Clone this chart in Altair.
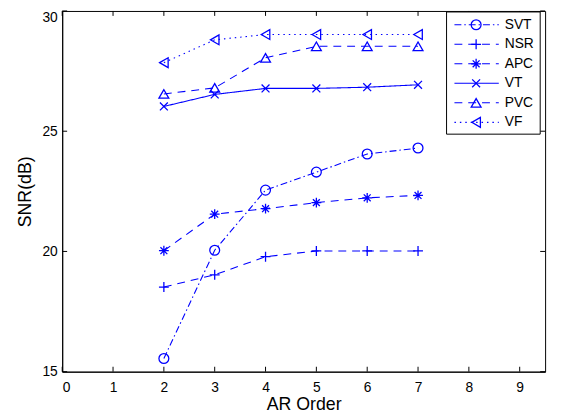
import altair as alt
import pandas as pd

# ---- data ----
ar_order = [2, 3, 4, 5, 6, 7]
series_names = ["SVT", "NSR", "APC", "VT", "PVC", "VF"]
svt = [15.55, 20.05, 22.55, 23.3, 24.05, 24.3]
nsr = [18.52, 19.03, 19.78, 20.02, 20.02, 20.02]
apc = [20.03, 21.55, 21.78, 22.03, 22.23, 22.33]
vt = [26.03, 26.53, 26.78, 26.78, 26.83, 26.93]
pvc = [26.55, 26.8, 28.05, 28.53, 28.53, 28.53]
vf = [27.85, 28.8, 29.02, 29.02, 29.02, 29.02]
x_ticks = [0, 1, 2, 3, 4, 5, 6, 7, 8, 9]
y_ticks = [15, 20, 25, 30]

values = {"SVT": svt, "NSR": nsr, "APC": apc, "VT": vt, "PVC": pvc, "VF": vf}
rows = []
for name in series_names:
    for xv, yv in zip(ar_order, values[name]):
        rows.append({"series": name, "order": xv, "snr": yv})
df = pd.DataFrame(rows)
legend_df = pd.DataFrame({"series": series_names})
xt_df = pd.DataFrame({"t": x_ticks})
yt_df = pd.DataFrame({"t": y_ticks})

BLUE = "#0000ff"
FONT = "Liberation Sans"
W, H = 490, 366

dash_scale = alt.Scale(
    domain=series_names,
    range=[[7, 3, 1.5, 3], [8, 6], [8, 6], [1, 0], [8, 6], [1.5, 4]],
)
PLUS = "M-1,0L1,0M0,-1L0,1"
CROSS = "M-0.8,-0.8L0.8,0.8M-0.8,0.8L0.8,-0.8"
AST = "M-1,0L1,0M0,-1L0,1M-0.7,-0.7L0.7,0.7M-0.7,0.7L0.7,-0.7"
shape_scale = alt.Scale(
    domain=series_names,
    range=["circle", PLUS, AST, CROSS, "triangle-up", "triangle-left"],
)

xscale = alt.Scale(domain=[0, 9.5], nice=False, zero=False)
yscale = alt.Scale(domain=[15, 30], nice=False, zero=False)

base = alt.Chart(df)
lines = base.mark_line(color=BLUE, strokeWidth=1.1).encode(
    x=alt.X("order:Q", scale=xscale,
            axis=alt.Axis(values=x_ticks, title="AR Order", format="d")),
    y=alt.Y("snr:Q", scale=yscale,
            axis=alt.Axis(values=y_ticks, title="SNR(dB)", format="d",
                          labelBaseline={"condition": {"test": "datum.value == 30", "value": "top"},
                                         "value": "middle"})),
    detail="series:N",
    strokeDash=alt.StrokeDash("series:N", scale=dash_scale, legend=None),
)
points = base.mark_point(color=BLUE, filled=False, strokeWidth=1.3, size=100, opacity=1).encode(
    x=alt.X("order:Q", scale=xscale),
    y=alt.Y("snr:Q", scale=yscale),
    shape=alt.Shape("series:N", scale=shape_scale, legend=None),
)

# inward ticks on all four sides
tick_b = alt.Chart(xt_df).mark_rule(color="black", strokeWidth=1).encode(
    x=alt.X("t:Q", scale=xscale), y=alt.value(H), y2=alt.value(H - 5))
tick_t = alt.Chart(xt_df).mark_rule(color="black", strokeWidth=1).encode(
    x=alt.X("t:Q", scale=xscale), y=alt.value(0), y2=alt.value(5))
tick_l = alt.Chart(yt_df).mark_rule(color="black", strokeWidth=1).encode(
    y=alt.Y("t:Q", scale=yscale), x=alt.value(0), x2=alt.value(5))
tick_r = alt.Chart(yt_df).mark_rule(color="black", strokeWidth=1).encode(
    y=alt.Y("t:Q", scale=yscale), x=alt.value(W), x2=alt.value(W - 5))

# legend box
leg_box = alt.Chart(pd.DataFrame({"a": [0]})).mark_rect(
    fill="white", stroke="black", strokeWidth=1).encode(
    x=alt.value(390), x2=alt.value(485), y=alt.value(1), y2=alt.value(125))
leg_y = alt.Y("series:N", sort=series_names,
              scale=alt.Scale(type="point", domain=series_names, range=[14, 113], padding=0),
              axis=None)
leg_lines = alt.Chart(legend_df).mark_rule(color=BLUE, strokeWidth=1.1).encode(
    x=alt.value(398), x2=alt.value(443), y=leg_y,
    strokeDash=alt.StrokeDash("series:N", scale=dash_scale, legend=None))
leg_pts = alt.Chart(legend_df).mark_point(color=BLUE, filled=False, strokeWidth=1.3, size=100, opacity=1).encode(
    x=alt.value(420), y=leg_y,
    shape=alt.Shape("series:N", scale=shape_scale, legend=None))
leg_text = alt.Chart(legend_df).mark_text(
    align="left", baseline="middle", font=FONT, fontSize=14, color="black").encode(
    x=alt.value(449), y=leg_y, text="series:N")

main = alt.layer(lines, points, tick_b, tick_t, tick_l, tick_r)
legend = alt.layer(leg_box, leg_lines, leg_pts, leg_text)

chart = alt.layer(main, legend).resolve_scale(y="independent").properties(
    width=W, height=H,
    autosize=alt.AutoSizeParams(type="none"),
    padding={"left": 55, "top": 0, "right": 8, "bottom": 45},
).configure_view(stroke="black", strokeWidth=1).configure_axis(
    grid=False, domainColor="black", domainWidth=1, ticks=False,
    labelFont=FONT, labelFontSize=14, labelColor="black",
    titleFont=FONT, titleFontSize=18, titleColor="black", titleFontWeight="normal",
).configure_axisX(labelPadding=9, titlePadding=1).configure_axisY(
    labelPadding=5, titlePadding=8)

chart.save("out.html", embed_options={"renderer": "svg", "actions": False})
